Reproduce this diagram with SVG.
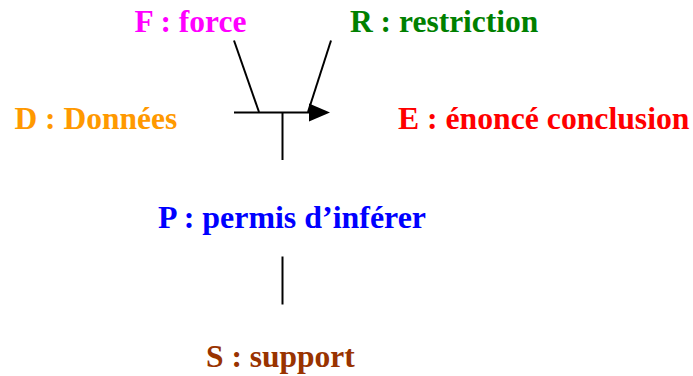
<svg xmlns="http://www.w3.org/2000/svg" width="693" height="376" viewBox="0 0 693 376">
<style>
.t{font-family:"Liberation Serif","Times New Roman",serif;font-weight:bold;font-size:31.5px}
.c{stroke:#000;stroke-width:2;fill:none}
</style>
<rect width="693" height="376" fill="#fff"/>
<g id="connectors">
<line class="c" x1="234" y1="112.5" x2="312" y2="112.5"/>
<polygon points="309,103.5 330,112.5 309,121.5" fill="#000"/>
<line class="c" x1="234" y1="40.5" x2="259" y2="112"/>
<line class="c" x1="331" y1="40.5" x2="308" y2="112"/>
<line class="c" x1="282.5" y1="112.5" x2="282.5" y2="160"/>
<line class="c" x1="282.5" y1="256.5" x2="282.5" y2="304.5"/>
</g>
<g id="F"><text class="t" x="134.5" y="31.5" fill="#FF00FF">F : force</text></g>
<g id="R"><text class="t" x="350" y="31.5" fill="#008000">R : restriction</text></g>
<g id="D"><text class="t" x="14.5" y="128.5" fill="#FF9900">D : Données</text></g>
<g id="E"><text class="t" x="398" y="128.5" fill="#FF0000" textLength="291.5" lengthAdjust="spacingAndGlyphs">E : énoncé conclusion</text></g>
<g id="P"><text class="t" x="158" y="228" fill="#0000FF" textLength="268" lengthAdjust="spacingAndGlyphs">P : permis d’inférer</text></g>
<g id="S"><text class="t" x="206" y="367" fill="#993300">S : support</text></g>
</svg>
